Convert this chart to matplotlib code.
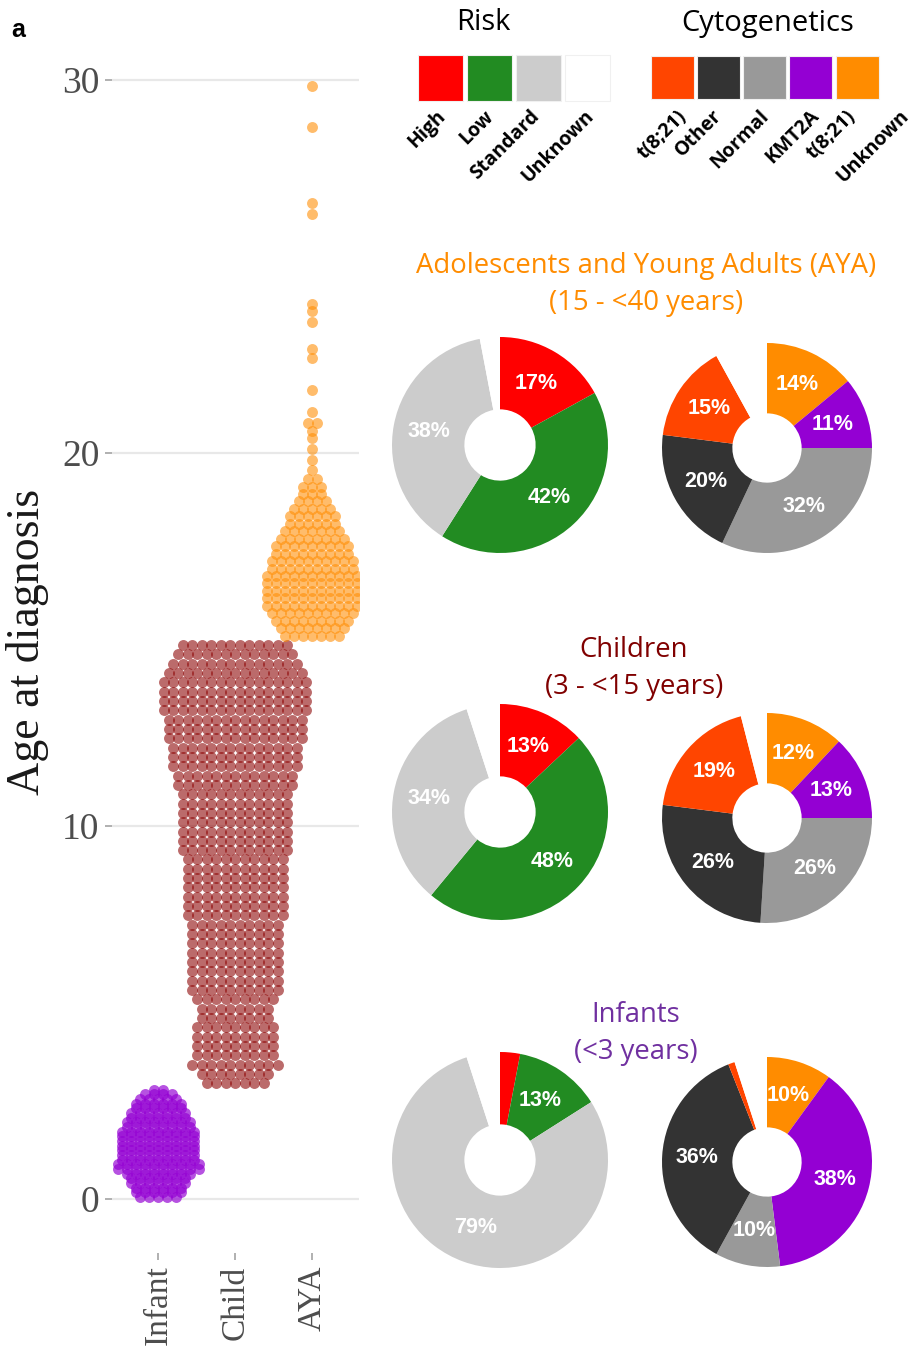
import matplotlib
matplotlib.use("Agg")
import matplotlib.pyplot as plt
from matplotlib.patches import Rectangle
import numpy as np

W, H = 916, 1353

# ---- age data: number of patients per age bin (years) ----
infant_bins = np.arange(0.05, 2.95, 0.125)
infant_counts = [5, 6, 6, 7, 7, 8, 10, 10, 9, 9, 9, 9, 9, 9, 9, 8, 8, 7, 7, 6, 6, 5, 4, 2]

child_bins = np.arange(3.1, 14.9, 0.25)
child_counts = [7, 8, 10, 9, 9, 9, 9, 8, 8, 9, 10, 10, 10, 10, 10, 10, 10, 10, 11, 11,
                11, 11, 11, 11, 11, 12, 12, 12, 12, 12, 12, 12, 13, 13, 14, 14, 14, 15,
                15, 15, 16, 16, 16, 16, 15, 14, 13, 12]

aya_bins = np.arange(15.1, 19.4, 0.2)
aya_counts = [7, 8, 9, 10, 11, 11, 11, 11, 11, 10, 10, 9, 9, 8, 7, 6, 6, 5, 4, 3, 3, 2]
aya_tail_ages = [19.55, 19.8, 20.1, 20.4, 20.6, 20.8, 21.1, 21.7, 22.55, 22.8, 23.5,
                 23.8, 24.0, 26.4, 26.7, 28.75, 29.85]
aya_tail_counts = [1, 1, 1, 1, 1, 2, 1, 1, 1, 1, 1, 1, 1, 1, 1, 1, 1]

groups = ['Infant', 'Child', 'AYA']
group_colors = ['#9400D3', '#8B0000', '#FF8C00']
group_alpha = [0.68, 0.58, 0.58]
group_step = [9.0, 9.5, 9.0]   # horizontal spacing between neighbours, px

# ---- pie data (percent of patients) ----
risk_labels = ['High', 'Low', 'Standard', 'Unknown']
risk_colors = ['#FF0000', '#228B22', '#CCCCCC', '#FFFFFF']
risk_aya = [17, 42, 38, 3]
risk_child = [13, 48, 34, 5]
risk_infant = [3, 13, 79, 5]

cyto_labels = ['t(8;21)', 'Other', 'Normal', 'KMT2A', 't(8;21)', 'Unknown']
cyto_colors = ['#FF4500', '#333333', '#999999', '#9400D3', '#FF8C00', '#FFFFFF']
cyto_aya = [15, 20, 32, 11, 14, 8]
cyto_child = [19, 26, 26, 13, 12, 4]
cyto_infant = [1, 36, 10, 38, 10, 5]
cyto_order = [4, 3, 2, 1, 0, 5]   # clockwise from 12 o'clock

titles = [('Adolescents and Young Adults (AYA)', '(15 - <40 years)', '#FF8C00', 646, 266),
          ('Children', '(3 - <15 years)', '#800000', 634, 650),
          ('Infants', '(<3 years)', '#7030A0', 636, 1015)]


def rows(bins, counts, step):
    xs, ys = [], []
    for a, n in zip(bins, counts):
        xs.extend((np.arange(n) - (n - 1) / 2) * step)
        ys.extend([a] * n)
    return np.array(xs), np.array(ys)


def px_axes(x0, y0, x1, y1):
    return fig.add_axes([x0 / W, 1 - y1 / H, (x1 - x0) / W, (y1 - y0) / H])


fig = plt.figure(figsize=(W / 100, H / 100), dpi=100)

over = fig.add_axes([0, 0, 1, 1])
over.set_xlim(0, W)
over.set_ylim(H, 0)
over.axis('off')

# ---- beeswarm panel ----
ax = px_axes(112, 24, 359, 1253)
unit = 77.0  # px per category
ax.set_xlim((112 - 158) / unit, (359 - 158) / unit)
ax.set_ylim(-1.45, 31.5)

swarm = [rows(infant_bins, infant_counts, group_step[0] / unit),
         rows(child_bins, child_counts, group_step[1] / unit),
         rows(np.concatenate([aya_bins, aya_tail_ages]), aya_counts + aya_tail_counts,
              group_step[2] / unit)]
for i, (dx, ages) in enumerate(swarm):
    ax.scatter(i + dx, ages, s=62, color=group_colors[i], alpha=group_alpha[i],
               linewidths=0, zorder=3)

ax.set_yticks([0, 10, 20, 30])
ax.set_xticks([0, 1, 2])
ax.set_xticklabels(groups, rotation=90)
ax.grid(axis='y', color='#E8E8E8', linewidth=1.6, zorder=0)
ax.set_axisbelow(True)
for sp in ax.spines.values():
    sp.set_visible(False)
ax.tick_params(axis='both', color='#B0B0B0', length=5, width=1.4, labelcolor='#4D4D4D')
ax.tick_params(axis='y', labelsize=27, pad=4)
ax.tick_params(axis='x', labelsize=24, pad=4)
for t in ax.get_xticklabels() + ax.get_yticklabels():
    t.set_family('Liberation Serif')
fig.text(28 / W, 1 - 642 / H, 'Age at diagnosis', rotation=90, ha='center', va='center',
         family='Liberation Serif', fontsize=33, color='#1A1A1A')
fig.text(11 / W, 1 - 30 / H, 'a', ha='left', va='center', family='Liberation Sans',
         fontsize=18, fontweight='bold')

# ---- legends ----
over.text(483, 22, 'Risk', ha='center', va='center', family='Open Sans', fontsize=21)
over.text(768, 24, 'Cytogenetics', ha='center', va='center', family='Open Sans', fontsize=21)
risk_x = [418, 467, 516, 565]
risk_lab_x = [436, 484, 529, 584]
for x, lx, c, lab in zip(risk_x, risk_lab_x, risk_colors, risk_labels):
    over.add_patch(Rectangle((x, 55), 45, 46, facecolor=c, edgecolor='#F0F0F0', lw=0.8))
    over.text(lx, 106, lab, rotation=45, rotation_mode='anchor', ha='right', va='top',
              family='Open Sans', fontweight='bold', fontsize=14)
cyto_x = [651, 697, 743, 789, 836, 882]
cyto_lab_x = [677, 712, 759, 809, 846, 899]
for x, lx, c, lab in zip(cyto_x, cyto_lab_x, cyto_colors, cyto_labels):
    edge = 'none' if c == '#FFFFFF' else '#F0F0F0'
    over.add_patch(Rectangle((x, 56), 43, 43, facecolor=c, edgecolor=edge, lw=0.8))
    over.text(lx, 106, lab, rotation=45, rotation_mode='anchor', ha='right', va='top',
              family='Open Sans', fontweight='bold', fontsize=14)

# ---- titles ----
for l1, l2, col, x, y in titles:
    over.text(x, y, l1, ha='center', va='center', family='Open Sans', fontsize=19.8, color=col)
    over.text(x, y + 37, l2, ha='center', va='center', family='Open Sans', fontsize=19.8,
              color=col)


# ---- donuts ----
def donut(cx, cy, r, values, colors):
    pax = px_axes(cx - r, cy - r, cx + r, cy + r)
    wedges, _ = pax.pie(values, colors=colors, startangle=90, counterclock=False, radius=1,
                        wedgeprops=dict(width=0.67, linewidth=0))
    pax.set_xlim(-1, 1)
    pax.set_ylim(-1, 1)
    for w, v, c in zip(wedges, values, colors):
        w.set_clip_on(False)
        if v < 5 or c == '#FFFFFF':
            continue
        ang = np.deg2rad((w.theta1 + w.theta2) / 2)
        pax.text(0.665 * np.cos(ang), 0.665 * np.sin(ang), f'{v}%', ha='center', va='center',
                 color='white', fontweight='bold', family='Liberation Sans', fontsize=15.5)


for (cy_r, cy_c, rv, cv) in [(445, 448, risk_aya, cyto_aya),
                             (812, 818, risk_child, cyto_child),
                             (1160, 1162, risk_infant, cyto_infant)]:
    donut(500, cy_r, 108, rv, risk_colors)
    donut(767, cy_c, 105, [cv[k] for k in cyto_order], [cyto_colors[k] for k in cyto_order])

fig.savefig('out.png', dpi=100)
